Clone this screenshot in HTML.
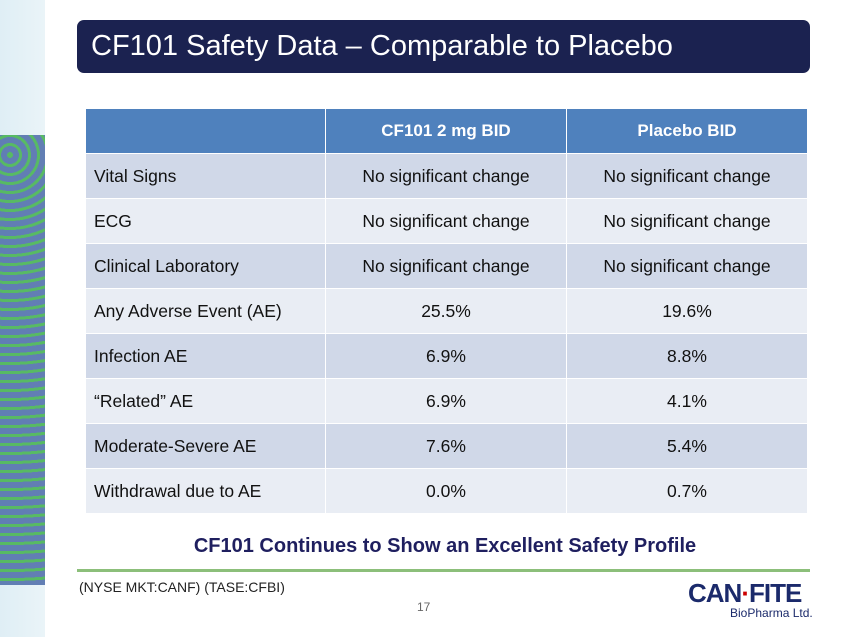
<!DOCTYPE html>
<html><head><style>
body{margin:0;width:850px;height:637px;overflow:hidden;background:#fff;font-family:"Liberation Sans",sans-serif;position:relative}
.strip{position:absolute;left:0;top:0;width:45px;height:637px;background:linear-gradient(90deg,#dfeef5,#eaf4f8)}
.blob{position:absolute;left:0;top:135px;width:45px;height:450px;background:repeating-radial-gradient(circle at 10px 20px,#3fb04a 0 3px,#4a6aa8 3px 9px);opacity:.85}
.title{position:absolute;left:77px;top:20px;width:733px;height:53px;background:#1b2250;border-radius:7px;color:#fff;font-size:29px;line-height:53px;box-sizing:border-box;padding-left:14px}
table{position:absolute;left:85px;top:108px;border-collapse:collapse;font-size:17.5px;color:#111}
td{height:45px;padding:0;border:1px solid #fff;box-sizing:border-box}
td:first-child{width:240px;padding-left:8px}
td.c{width:241px;text-align:center}
tr.h td{background:#4f81bd;color:#fff;font-weight:bold;font-size:17px;text-align:center}
tr.o td{background:#d0d8e8}
tr.e td{background:#e9edf4}
.sub{position:absolute;left:0;width:890px;top:535px;text-align:center;color:#1f1f5f;font-weight:bold;font-size:20px}
.line{position:absolute;left:77px;top:569px;width:733px;height:3px;background:#8cbf7a}
.foot{position:absolute;left:79px;top:579px;font-size:14px;color:#222}
.pg{position:absolute;left:417px;top:600px;font-size:12px;color:#666}
.logo{position:absolute;left:688px;top:578px;color:#1b2a6b;font-weight:bold;font-size:26px;letter-spacing:-1px}
.bio{position:absolute;left:730px;top:606px;color:#1b2a6b;font-size:12px}
</style></head><body>
<div class="strip"></div><div class="blob"></div>
<div class="title">CF101 Safety Data – Comparable to Placebo</div>
<table>
<tr class="h"><td></td><td class="c">CF101 2 mg BID</td><td class="c">Placebo BID</td></tr>
<tr class="o"><td>Vital Signs</td><td class="c">No significant change</td><td class="c">No significant change</td></tr>
<tr class="e"><td>ECG</td><td class="c">No significant change</td><td class="c">No significant change</td></tr>
<tr class="o"><td>Clinical Laboratory</td><td class="c">No significant change</td><td class="c">No significant change</td></tr>
<tr class="e"><td>Any Adverse Event (AE)</td><td class="c">25.5%</td><td class="c">19.6%</td></tr>
<tr class="o"><td>Infection AE</td><td class="c">6.9%</td><td class="c">8.8%</td></tr>
<tr class="e"><td>“Related” AE</td><td class="c">6.9%</td><td class="c">4.1%</td></tr>
<tr class="o"><td>Moderate-Severe AE</td><td class="c">7.6%</td><td class="c">5.4%</td></tr>
<tr class="e"><td>Withdrawal due to  AE</td><td class="c">0.0%</td><td class="c">0.7%</td></tr>
</table>
<div class="sub">CF101 Continues to Show an Excellent Safety Profile</div>
<div class="line"></div>
<div class="foot">(NYSE MKT:CANF)  (TASE:CFBI)</div>
<div class="pg">17</div>
<div class="logo">CAN<span style="color:#c00">·</span>FITE</div>
<div class="bio">BioPharma Ltd.</div>
</body></html>
